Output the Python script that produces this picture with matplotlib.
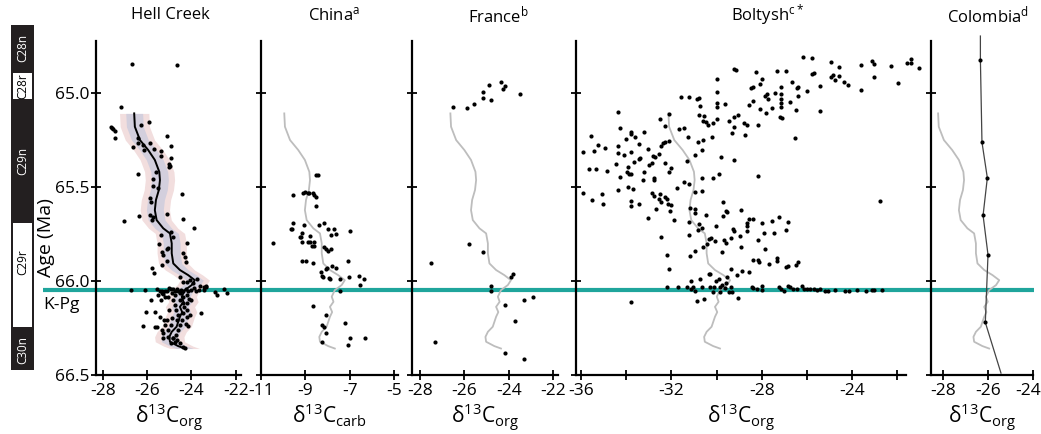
import matplotlib
matplotlib.use('Agg')
import matplotlib.pyplot as plt
import matplotlib.transforms as mtransforms
from matplotlib.patches import Rectangle
import numpy as np

plt.rcParams['font.family'] = ['Open Sans', 'DejaVu Sans']
plt.rcParams['axes.unicode_minus'] = False
plt.rcParams['mathtext.fontset'] = 'custom'
plt.rcParams['mathtext.rm'] = 'Open Sans'
plt.rcParams['mathtext.it'] = 'Open Sans:italic'
plt.rcParams['mathtext.bf'] = 'Open Sans:bold'

# ---------------- data ----------------
kpg_age = 66.05

chron_names = ['C28n', 'C28r', 'C29n', 'C29r', 'C30n']
chron_top = [64.636, 64.887, 65.036, 65.686, 66.25]
chron_base = [64.887, 65.036, 65.686, 66.25, 66.474]
chron_normal = [True, False, True, False, True]
chron_label_age = [64.76, 64.96, 65.36, 65.90, 66.37]

# Hell Creek smoothed trend (also used as grey reference curve in other panels)
hc_trend_age = [65.107, 65.178, 65.249, 65.302, 65.355, 65.418, 65.462, 65.515, 65.568, 65.622,
                65.675, 65.719, 65.746, 65.799, 65.852, 65.906, 65.941, 65.968, 65.995, 66.021,
                66.048, 66.083, 66.110, 66.137, 66.165, 66.19, 66.243, 66.270, 66.297, 66.323,
                66.346, 66.359]
hc_trend_d13c = [-26.58, -26.55, -26.32, -25.95, -25.65, -25.45, -25.42, -25.47, -25.60, -25.65,
                 -25.57, -25.27, -24.97, -24.89, -24.89, -24.82, -24.52, -24.15, -23.85, -23.99,
                 -24.30, -24.44, -24.36, -24.52, -24.42, -24.52, -24.67, -24.89, -25.0, -24.97,
                 -24.60, -24.30]
hc_band_inner = 0.38
hc_band_outer = 0.66

hell_creek_points = [
    (-26.69, 64.842), (-24.64, 64.851), (-27.16, 65.073), (-27.64, 65.181), (-27.58, 65.186),
    (-27.52, 65.192), (-27.43, 65.199), (-27.43, 65.238), (-26.28, 65.169), (-25.90, 65.153),
    (-25.12, 65.226), (-26.42, 65.240), (-26.42, 65.265), (-26.17, 65.277), (-25.88, 65.265),
    (-26.65, 65.286), (-26.15, 65.300), (-25.68, 65.295), (-24.91, 65.282), (-25.39, 65.307),
    (-25.38, 65.334), (-24.93, 65.346), (-25.02, 65.377), (-24.98, 65.387), (-25.03, 65.391),
    (-25.59, 65.418), (-26.41, 65.432), (-25.72, 65.458), (-25.75, 65.492), (-25.52, 65.505),
    (-24.42, 65.535), (-25.86, 65.559),
    (-27.04, 65.679), (-26.35, 65.654), (-25.84, 65.578), (-25.87, 65.647), (-25.72, 65.657),
    (-25.77, 65.675), (-25.12, 65.645), (-24.39, 65.671), (-23.89, 65.716), (-24.94, 65.739),
    (-25.38, 65.755), (-24.82, 65.764), (-25.45, 65.801), (-24.19, 65.798), (-25.06, 65.823),
    (-25.12, 65.830), (-24.37, 65.852), (-24.28, 65.870), (-24.25, 65.897), (-25.33, 65.847),
    (-25.30, 65.862), (-25.12, 65.892), (-25.34, 65.915), (-25.77, 65.932), (-25.69, 65.956),
    (-24.52, 65.977), (-24.07, 65.995), (-23.77, 65.989), (-24.37, 66.007), (-24.22, 66.007),
    (-23.92, 66.012), (-23.62, 66.026), (-23.35, 66.026),
    (-26.74, 66.048), (-26.10, 66.048),
    (-25.54, 66.044), (-25.42, 66.052), (-25.33, 66.052), (-25.21, 66.052), (-25.12, 66.052),
    (-25.00, 66.039), (-24.94, 66.044), (-24.85, 66.044), (-24.76, 66.052), (-24.67, 66.044),
    (-24.59, 66.052), (-24.49, 66.048), (-24.37, 66.052), (-24.25, 66.044), (-24.15, 66.052),
    (-24.04, 66.048), (-23.89, 66.039), (-23.80, 66.052), (-23.65, 66.048), (-23.44, 66.048),
    (-23.35, 66.034),
    (-22.95, 66.057), (-22.87, 66.075), (-22.53, 66.044), (-22.42, 66.062), (-23.44, 66.030),
    (-25.50, 66.075), (-25.34, 66.066), (-25.27, 66.069), (-25.20, 66.083), (-24.89, 66.066),
    (-24.75, 66.075), (-24.52, 66.066), (-24.37, 66.083), (-24.19, 66.075), (-24.10, 66.093),
    (-25.84, 66.101), (-25.38, 66.101), (-25.07, 66.083),
    (-24.52, 66.101), (-24.40, 66.119), (-24.34, 66.137), (-24.22, 66.116), (-24.00, 66.101),
    (-24.19, 66.154), (-24.37, 66.172), (-24.07, 66.181), (-24.19, 66.190), (-24.44, 66.208),
    (-24.85, 66.101), (-24.75, 66.128), (-24.70, 66.154), (-24.60, 66.181), (-24.67, 66.208),
    (-24.52, 66.234), (-24.60, 66.261), (-24.70, 66.288), (-24.82, 66.305), (-24.64, 66.314),
    (-25.00, 66.154), (-24.89, 66.199), (-25.12, 66.208), (-24.94, 66.234), (-25.05, 66.261),
    (-25.18, 66.234),
    (-26.06, 66.164), (-25.65, 66.164), (-25.42, 66.193), (-25.23, 66.208), (-23.58, 66.169),
    (-26.17, 66.240), (-25.65, 66.247), (-25.57, 66.243), (-25.34, 66.261), (-25.30, 66.279),
    (-24.25, 66.229), (-24.15, 66.240),
    (-25.05, 66.297), (-24.85, 66.305), (-24.75, 66.323), (-24.52, 66.332), (-24.37, 66.350),
    (-24.30, 66.357), (-25.30, 66.305), (-24.93, 66.332),
]

china_points = [
    (-8.52, 65.433), (-8.43, 65.433), (-9.54, 65.540), (-9.09, 65.530), (-9.00, 65.527),
    (-8.89, 65.530), (-8.82, 65.530), (-8.64, 65.530), (-8.59, 65.542), (-8.50, 65.551),
    (-8.50, 65.600), (-9.54, 65.690), (-9.66, 65.724), (-9.62, 65.722), (-9.06, 65.700),
    (-8.37, 65.700), (-8.17, 65.690), (-7.96, 65.724), (-7.69, 65.724), (-7.62, 65.749),
    (-7.84, 65.753), (-7.00, 65.731), (-10.46, 65.796), (-9.15, 65.746), (-9.20, 65.767),
    (-9.24, 65.767), (-8.77, 65.758), (-9.14, 65.790), (-8.89, 65.790), (-8.78, 65.794),
    (-8.63, 65.794), (-8.72, 65.813), (-8.60, 65.813), (-8.17, 65.820), (-8.07, 65.831),
    (-7.99, 65.838), (-7.86, 65.831), (-9.17, 65.895), (-8.98, 65.895), (-8.64, 65.902),
    (-7.06, 65.892), (-8.28, 65.949), (-8.07, 65.935), (-8.01, 65.929), (-7.81, 65.922),
    (-7.62, 65.931), (-8.23, 65.973), (-8.20, 65.980), (-7.92, 65.984), (-7.89, 65.989),
    (-7.44, 65.991), (-7.03, 65.977), (-6.56, 65.975), (-6.35, 65.989), (-6.53, 66.023),
    (-7.42, 66.052), (-8.64, 66.133), (-8.08, 66.178), (-8.26, 66.234), (-8.17, 66.243),
    (-8.08, 66.275), (-7.23, 66.222), (-8.26, 66.322), (-6.98, 66.302), (-7.08, 66.338),
    (-6.32, 66.302),
]

france_points = [
    (-26.53, 65.073), (-25.86, 65.076), (-25.56, 65.059), (-25.17, 65.023), (-25.17, 64.991),
    (-24.78, 65.036), (-24.87, 64.954), (-24.37, 64.938), (-24.28, 64.975), (-24.18, 64.959),
    (-23.50, 65.005), (-25.77, 65.805), (-25.17, 65.847), (-27.52, 65.904), (-23.79, 65.961),
    (-23.89, 65.980), (-24.78, 66.025), (-24.78, 66.052), (-23.31, 66.100), (-22.90, 66.085),
    (-24.18, 66.128), (-23.70, 66.213), (-27.33, 66.325), (-24.18, 66.382), (-23.31, 66.417),
]

boltysh_points = [
    (-26.18, 64.805), (-25.79, 64.813), (-24.94, 64.831), (-24.56, 64.858), (-23.60, 64.849),
    (-23.13, 64.826), (-23.03, 64.845), (-22.29, 64.854), (-21.58, 64.837), (-21.40, 64.819),
    (-21.40, 64.840), (-21.06, 64.867), (-29.21, 64.870), (-29.15, 64.874), (-28.27, 64.885),
    (-27.31, 64.879), (-26.92, 64.881), (-25.71, 64.890), (-25.76, 64.897), (-24.94, 64.915),
    (-24.83, 64.902), (-24.56, 64.908), (-24.75, 64.929), (-24.35, 64.938), (-24.19, 64.956),
    (-23.03, 64.915), (-21.98, 64.943), (-23.60, 64.982), (-29.99, 64.924), (-28.01, 64.925),
    (-28.47, 64.973), (-28.40, 64.968), (-28.07, 64.950), (-27.78, 65.004), (-27.41, 64.996),
    (-27.14, 64.964), (-26.64, 64.940), (-26.45, 64.973), (-26.39, 64.968), (-26.01, 64.988),
    (-25.42, 64.959), (-29.99, 64.993), (-31.59, 65.021), (-31.22, 65.018), (-30.86, 65.032),
    (-30.76, 65.025), (-29.99, 65.050), (-29.62, 65.057), (-30.75, 65.067), (-29.99, 65.075),
    (-28.40, 65.039), (-28.56, 65.062), (-27.85, 65.014), (-27.73, 65.028), (-27.14, 65.005),
    (-27.14, 65.032), (-27.14, 65.053), (-27.14, 65.075), (-26.75, 65.044), (-26.38, 65.014),
    (-27.53, 65.076), (-28.07, 65.085), (-26.48, 65.089), (-25.42, 65.096), (-27.81, 65.107),
    (-27.19, 65.128), (-27.11, 65.131), (-30.79, 65.115), (-30.55, 65.121), (-30.58, 65.146),
    (-30.48, 65.151), (-30.36, 65.169), (-30.17, 65.156), (-29.99, 65.139), (-29.43, 65.146),
    (-29.25, 65.128), (-29.03, 65.115), (-29.22, 65.178), (-28.77, 65.156), (-28.66, 65.171),
    (-28.16, 65.167), (-31.65, 65.192), (-31.44, 65.186), (-31.25, 65.231), (-30.83, 65.258),
    (-30.58, 65.249), (-30.18, 65.234), (-29.31, 65.213), (-28.74, 65.224), (-26.55, 65.238),
    (-32.50, 65.135), (-32.27, 65.174), (-32.09, 65.110),
    (-34.38, 65.099), (-34.27, 65.183), (-33.80, 65.204), (-33.80, 65.218), (-34.00, 65.243),
    (-33.62, 65.231), (-35.57, 65.227), (-35.93, 65.314), (-35.44, 65.306), (-35.23, 65.275),
    (-34.94, 65.291), (-34.38, 65.281), (-34.38, 65.320), (-34.10, 65.329), (-33.80, 65.311),
    (-33.43, 65.268), (-33.23, 65.204), (-33.03, 65.298), (-32.81, 65.334), (-32.56, 65.321),
    (-32.47, 65.279), (-32.38, 65.266), (-32.27, 65.259), (-32.09, 65.252), (-32.97, 65.380),
    (-32.87, 65.373), (-32.71, 65.337), (-35.63, 65.405), (-35.34, 65.401), (-34.85, 65.414),
    (-34.46, 65.378), (-34.27, 65.444), (-33.93, 65.391), (-33.98, 65.421), (-33.89, 65.428),
    (-33.80, 65.430), (-33.64, 65.366), (-33.45, 65.348), (-33.39, 65.346), (-33.21, 65.421),
    (-33.24, 65.462), (-32.75, 65.449), (-32.75, 65.462), (-32.27, 65.369), (-32.00, 65.400),
    (-32.09, 65.421), (-35.93, 65.533), (-35.51, 65.567), (-35.06, 65.538), (-35.04, 65.591),
    (-34.38, 65.517), (-33.90, 65.497), (-33.80, 65.572), (-33.80, 65.600), (-33.70, 65.510),
    (-33.43, 65.588), (-33.05, 65.663), (-32.84, 65.529), (-32.77, 65.547), (-32.66, 65.615),
    (-32.56, 65.563), (-32.50, 65.538), (-32.44, 65.577), (-32.27, 65.551), (-32.18, 65.565),
    (-32.13, 65.590), (-32.01, 65.597), (-32.06, 65.625), (-31.88, 65.675), (-31.76, 65.503),
    (-31.44, 65.474), (-31.22, 65.483), (-31.32, 65.361), (-30.95, 65.524), (-30.64, 65.520),
    (-30.64, 65.453), (-30.17, 65.453), (-29.89, 65.432), (-29.80, 65.341), (-30.95, 65.329),
    (-30.63, 65.302), (-29.25, 65.355), (-28.18, 65.439),
    (-31.16, 65.609), (-30.95, 65.618), (-30.95, 65.639), (-30.48, 65.648), (-29.71, 65.579),
    (-29.59, 65.629), (-29.52, 65.634), (-29.73, 65.654), (-28.94, 65.622), (-31.23, 65.684),
    (-30.79, 65.696), (-30.83, 65.726), (-30.64, 65.719), (-31.20, 65.755), (-30.61, 65.817),
    (-30.44, 65.803), (-30.32, 65.778), (-30.24, 65.771), (-30.05, 65.785), (-30.01, 65.705),
    (-29.77, 65.847), (-29.67, 65.782), (-29.58, 65.799), (-29.34, 65.769), (-29.28, 65.725),
    (-29.22, 65.732), (-28.96, 65.760), (-28.94, 65.817), (-28.65, 65.693), (-28.65, 65.707),
    (-28.66, 65.732), (-28.56, 65.668), (-28.37, 65.671), (-27.99, 65.693), (-28.15, 65.782),
    (-27.90, 65.746), (-27.87, 65.831), (-27.47, 65.746), (-27.53, 65.680), (-27.23, 65.657),
    (-26.86, 65.686), (-26.94, 65.728), (-27.69, 65.911), (-27.34, 65.879), (-27.34, 65.892),
    (-26.94, 65.924), (-26.85, 65.920), (-26.49, 65.915), (-26.39, 65.897), (-28.37, 65.885),
    (-28.15, 65.888), (-28.10, 65.899), (-32.21, 65.861), (-32.09, 65.938), (-32.47, 65.764),
    (-31.16, 65.865), (-30.95, 65.838), (-30.73, 65.991), (-30.33, 65.963), (-30.27, 65.963),
    (-30.04, 66.000), (-29.87, 65.991), (-29.55, 65.977), (-29.77, 66.021), (-29.58, 66.012),
    (-29.36, 65.938), (-29.09, 65.970), (-28.86, 65.947), (-28.56, 65.950), (-31.14, 65.998),
    (-32.18, 66.034), (-31.72, 66.034), (-31.32, 66.034), (-31.14, 66.041), (-31.06, 66.034),
    (-30.95, 66.052), (-30.66, 66.030), (-30.29, 66.030), (-30.11, 66.034), (-30.17, 66.059),
    (-29.84, 66.034), (-29.62, 66.039), (-29.37, 66.030), (-29.30, 66.057), (-29.84, 66.059),
    (-29.43, 66.059), (-28.44, 66.034), (-28.37, 66.037), (-28.22, 66.044), (-27.99, 66.027),
    (-27.99, 66.048), (-27.23, 66.034), (-27.14, 66.041), (-26.86, 66.027), (-27.01, 66.052),
    (-26.75, 66.034), (-26.60, 66.041), (-26.45, 66.041), (-26.20, 66.027), (-26.15, 66.041),
    (-26.01, 66.041), (-25.86, 66.042), (-25.71, 66.044), (-25.56, 66.048), (-25.42, 66.044),
    (-25.20, 66.052), (-25.05, 66.052), (-24.75, 66.050), (-24.31, 66.052), (-24.15, 66.052),
    (-23.79, 66.050), (-23.38, 66.052), (-23.13, 66.048), (-23.03, 66.048), (-22.66, 66.048),
    (-33.80, 66.110), (-30.85, 66.107), (-30.55, 66.094), (-29.03, 66.089), (-22.76, 65.572),
]

colombia_d13c = [-26.34, -26.27, -26.03, -26.22, -26.00, -26.12]
colombia_age = [64.82, 65.26, 65.45, 65.65, 65.86, 66.22]
colombia_trend_d13c = [-26.34] + colombia_d13c + [-25.42]
colombia_trend_age = [64.695] + colombia_age + [66.49]

# Hell Creek reference curve re-plotted on each site's axis (shift in permil)
ref_offset = {'China': 16.63, 'France': -0.05, 'Boltysh': -5.55, 'Colombia': -1.65}

# ---------------- layout ----------------
W, H = 1041, 434
fig = plt.figure(figsize=(W / 100, H / 100), dpi=100)
AGE_TOP, AGE_BOT = 64.7214, 66.5
TEAL = '#1fa59c'
GREY = '#bdbdbd'
PINK = '#f2dede'
LAV = '#d3cfdd'
DOT = 9


def pos(l, r, top=41, bot=375):
    return [l / W, 1 - bot / H, (r - l) / W, (bot - top) / H]


def age_at_px(py):
    return 65 + (py - 93.3) / 187.7


# background axis carrying the K-Pg line across all panels
bg = fig.add_axes(pos(43, 1034))
bg.set_xlim(0, 1)
bg.set_ylim(AGE_BOT, AGE_TOP)
bg.axis('off')
bg.axhline(kpg_age, color=TEAL, lw=3.0, zorder=0)

# magnetochron column
mc = fig.add_axes(pos(11, 34, top=20, bot=380))
mc.set_xlim(0, 1)
mc.set_ylim(age_at_px(380), age_at_px(20))
mc.axis('off')
mc.add_patch(Rectangle((0, chron_top[0]), 1, chron_base[-1] - chron_top[0], color='#231f20', lw=0))
for name, t, b, normal, la in zip(chron_names, chron_top, chron_base, chron_normal, chron_label_age):
    if not normal:
        mc.add_patch(Rectangle((0.07, t + 0.004), 0.86, b - t - 0.008, color='white', lw=0))
    mc.text(0.5, la, name, rotation=90, ha='center', va='center',
            fontsize=8.5, color='white' if normal else 'black',
            family=['Liberation Sans Narrow', 'Open Sans'])

panels = [
    ('Hell Creek', 96, 241, (-28.30, -21.77), [-28, -26, -24, -22], None, 'org'),
    ('China', 261, 398, (-11.0, -4.82), [-11, -9, -7, -5], None, 'carb'),
    ('France', 412, 558, (-28.36, -21.78), [-28, -26, -24, -22], None, 'org'),
    ('Boltysh', 576, 905.7, (-36.22, -21.63), list(range(-36, -21, 2)),
     ['-36', '', '-32', '', '-28', '', '-24', ''], 'org'),
    ('Colombia', 930.7, 1033, (-28.56, -23.99), [-28, -26, -24], None, 'org'),
]
titles = {'Hell Creek': ('Hell Creek', 170), 'China': ('China$^{\\mathrm{a}}$', 334),
          'France': ('France$^{\\mathrm{b}}$', 498), 'Boltysh': ('Boltysh$^{\\mathrm{c*}}$', 767),
          'Colombia': ('Colombia$^{\\mathrm{d}}$', 988)}

axes = {}
for i, (name, l, r, xl, xt, xtl, sub) in enumerate(panels):
    ax = fig.add_axes(pos(l, r))
    ax.patch.set_alpha(0)
    ax.set_xlim(*xl)
    ax.set_ylim(AGE_BOT, AGE_TOP)
    for s in ('top', 'right'):
        ax.spines[s].set_visible(False)
    for s in ('left', 'bottom'):
        ax.spines[s].set_linewidth(1.6)
    ax.set_yticks([65.0, 65.5, 66.0, 66.5])
    ax.set_xticks(xt)
    ax.set_xticklabels(xtl if xtl else [str(v) for v in xt])
    ax.tick_params(direction='inout', length=7, width=1.3, labelsize=12.5, pad=1)
    ax.tick_params(axis='x', pad=2)
    if i == 0:
        ax.set_yticklabels(['65.0', '65.5', '66.0', '66.5'])
    else:
        ax.set_yticklabels([])
    ax.set_xlabel('δ$^{\\mathrm{13}}$C$_{\\mathrm{' + sub + '}}$', fontsize=15, labelpad=2)
    t, tx = titles[name]
    fig.text(tx / W, 1 - 15 / H, t, ha='center', va='center', fontsize=12)
    axes[name] = ax

# nudge the rightmost Colombia tick label so it stays inside the figure
last = axes['Colombia'].get_xticklabels()[-1]
last.set_transform(last.get_transform() +
                   mtransforms.ScaledTranslation(-5 / 100, 0, fig.dpi_scale_trans))

# Hell Creek
ax = axes['Hell Creek']
hx = np.array(hc_trend_d13c)
ax.fill_betweenx(hc_trend_age, hx - hc_band_outer, hx + hc_band_outer, color=PINK, lw=0, zorder=1)
ax.fill_betweenx(hc_trend_age, hx - hc_band_inner, hx + hc_band_inner, color=LAV, lw=0, zorder=2)
ax.plot(hc_trend_d13c, hc_trend_age, color='black', lw=1.4, zorder=3)
px, py = zip(*hell_creek_points)
ax.scatter(px, py, s=DOT, color='black', lw=0, zorder=4, clip_on=False)

for name, pts in (('China', china_points), ('France', france_points), ('Boltysh', boltysh_points)):
    ax = axes[name]
    ax.plot(hx + ref_offset[name], hc_trend_age, color=GREY, lw=1.3, zorder=2)
    px, py = zip(*pts)
    ax.scatter(px, py, s=DOT, color='black', lw=0, zorder=4, clip_on=False)

ax = axes['Colombia']
ax.plot(hx + ref_offset['Colombia'], hc_trend_age, color=GREY, lw=1.3, zorder=2)
ax.plot(colombia_trend_d13c, colombia_trend_age, color='#444444', lw=0.9, zorder=3, clip_on=False)
ax.scatter(colombia_d13c, colombia_age, s=DOT, color='black', lw=0, zorder=4)

fig.text(46 / W, 1 - 238 / H, 'Age (Ma)', rotation=90, ha='center', va='center', fontsize=14)
fig.text(43 / W, 1 - 305 / H, 'K-Pg', ha='left', va='center', fontsize=12.5)

fig.savefig('out.png', dpi=100)
